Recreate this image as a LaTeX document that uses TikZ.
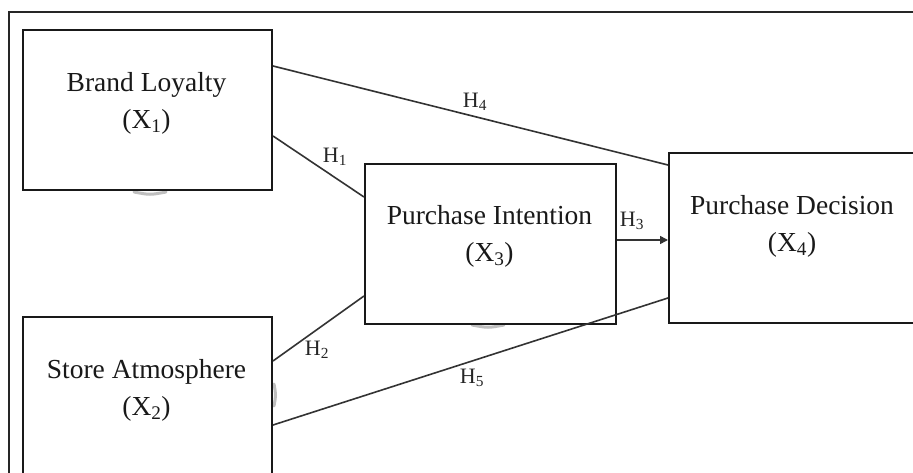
\documentclass[tikz,border=0pt]{standalone}
\usepackage{fontspec}
\setmainfont{Liberation Serif}
\usetikzlibrary{calc,arrows.meta}
\begin{document}
\begin{tikzpicture}[x=1pt,y=-1pt,
  box/.style={draw=black!90, line width=2pt, rectangle, inner sep=0pt, anchor=north west},
  conn/.style={draw=black!80, line width=1.6pt},
  lbl/.style={font=\fontsize{27.5}{37}\selectfont, align=center, inner sep=0pt, text=black!90},
  hyp/.style={font=\fontsize{22}{24}\selectfont, inner sep=0pt, text=black!85},
  smudge/.style={draw=black!25, line width=3pt, line cap=round}]
\useasboundingbox (0,0) rectangle (913,473);
\begin{scope}
\clip (0,0) rectangle (913,473);
\fill[white] (0,0) rectangle (913,473);
\draw[line width=2pt, black!85] (9,12) rectangle (940,500);
% faint smudges
\draw[smudge] (134,192) .. controls (150,195) .. (166,192);
\draw[smudge] (472,325) .. controls (488,328) .. (504,325);
\draw[smudge] (274,384) .. controls (276,395) .. (274,406);
% boxes
\node[box, minimum width=249pt, minimum height=160pt] (bl) at (22,29) {};
\node[box, minimum width=249pt, minimum height=200pt] (sa) at (22,316) {};
\node[box, minimum width=251pt, minimum height=160pt] (pi) at (364,163) {};
\node[box, minimum width=248pt, minimum height=170pt] (pd) at (668,152) {};
% texts
\node[lbl] (blt) at (146.5,103.5) {Brand Loyalty\\(X\textsubscript{1})};
\node[lbl] (sat) at (146.5,390.5) {Store Atmosphere\\(X\textsubscript{2})};
\node[lbl] (pit) at (489.5,236.5) {Purchase Intention\\(X\textsubscript{3})};
\node[lbl] (pdt) at (792,226) {Purchase Decision\\(X\textsubscript{4})};
% connectors
\draw[conn] ($(bl.north east)+(0,37)$) -- ($(pd.north west)+(0,13)$);
\draw[conn] ($(bl.north east)+(0,107)$) -- ($(pi.north west)+(0,34)$);
\draw[conn] ($(sa.north east)+(0,45)$) -- ($(pi.north west)+(0,133)$);
\draw[conn] ($(sa.north east)+(0,109)$) -- ($(pd.north west)+(0,146)$);
\draw[conn, -{Triangle[length=8pt,width=8pt]}] ($(pi.north east)+(0,77)$) -- ($(pd.north west)+(0,88)$);
% hypothesis labels
\node[hyp] (h1) at (335,157) {H\textsubscript{1}};
\node[hyp] (h2) at (317,350) {H\textsubscript{2}};
\node[hyp] (h3) at (632,221) {H\textsubscript{3}};
\node[hyp] (h4) at (475,102) {H\textsubscript{4}};
\node[hyp] (h5) at (472,378) {H\textsubscript{5}};
\end{scope}
\end{tikzpicture}
\end{document}
